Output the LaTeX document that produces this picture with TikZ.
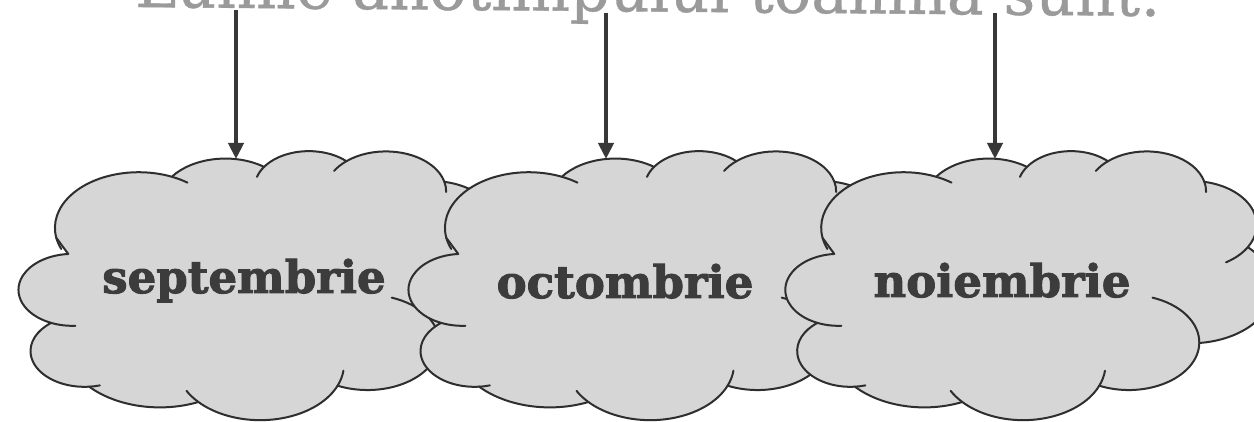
\documentclass[tikz,border=0pt]{standalone}
\usepackage{fontspec}
\setmainfont{DejaVu Serif}
\newfontfamily\titlefont{DejaVu Serif}[FakeBold=0.6]
\newfontfamily\monthfont{DejaVu Serif Bold}[FakeBold=2.2]
\usetikzlibrary{arrows.meta}
\definecolor{cloudfill}{HTML}{D6D6D6}
\definecolor{cloudline}{HTML}{2E2E2E}
\definecolor{arrowcol}{HTML}{383838}
\definecolor{titlecol}{HTML}{9A9A9A}
\definecolor{monthcol}{HTML}{3C3C3C}
\tikzset{
  cloudshape/.pic={
    \path[fill=cloudfill, draw=cloudline, line width=2pt, line join=round]
      (39.00,143.70)
      arc[start angle=-190.487, delta angle=123.781, x radius=67.53, y radius=91.90]
      arc[start angle=-144.102, delta angle=89.945, x radius=53.33, y radius=72.67]
      arc[start angle=-145.808, delta angle=99.723, x radius=43.65, y radius=59.45]
      arc[start angle=-130.986, delta angle=117.242, x radius=48.57, y radius=65.95]
      arc[start angle=-78.709, delta angle=109.027, x radius=53.33, y radius=72.73]
      arc[start angle=-46.267, delta angle=130.269, x radius=67.75, y radius=92.20]
      arc[start angle=0.625, delta angle=114.033, x radius=57.85, y radius=78.67]
      arc[start angle=22.452, delta angle=115.173, x radius=67.52, y radius=92.15]
      arc[start angle=66.243, delta angle=71.255, x radius=77.20, y radius=105.43]
      arc[start angle=-274.942, delta angle=146.736, x radius=43.60, y radius=59.18]
      arc[start angle=-246.829, delta angle=152.519, x radius=43.45, y radius=59.45]
      -- cycle;
    \begin{scope}[draw=cloudline, line width=2pt, line cap=round]
      \draw (51.886,229.495) ++(86.742:43.45 and 59.45) arc[start angle=86.742, end angle=113.171, x radius=43.45, y radius=59.45];
      \draw (61.759,330.654) ++(73.610:43.60 and 59.18) arc[start angle=73.610, end angle=85.058, x radius=43.60, y radius=59.18];
      \draw (203.402,352.75) ++(137.624:67.52 and 92.15) arc[start angle=137.624, end angle=151.705, x radius=67.52, y radius=92.15];
      \draw (203.402,352.75) ++(6.453:67.52 and 92.15) arc[start angle=6.453, end angle=22.451, x radius=67.52, y radius=92.15];
      \draw (289.94,316.445) ++(-70.292:57.85 and 78.67) arc[start angle=-70.292, end angle=0.625, x radius=57.85, y radius=78.67];
      \draw (341.505,122.27) ++(30.318:53.33 and 72.73) arc[start angle=30.318, end angle=58.07, x radius=53.33, y radius=72.73];
      \draw (304.768,66.616) ++(-13.744:48.57 and 65.95) arc[start angle=-13.744, end angle=1.115, x radius=48.57, y radius=65.95];
      \draw (304.768,66.616) ++(-149.181:48.57 and 65.95) arc[start angle=-149.181, end angle=-130.986, x radius=48.57, y radius=65.95];
      \draw (242.643,59.653) ++(-163.494:43.65 and 59.45) arc[start angle=-163.494, end angle=-145.808, x radius=43.65, y radius=59.45];
      \draw (105.402,126.974) ++(-66.707:67.53 and 91.90) arc[start angle=-66.707, end angle=-54.388, x radius=67.53, y radius=91.90];
      \draw (105.402,126.974) ++(157.654:67.53 and 91.90) arc[start angle=157.654, end angle=169.512, x radius=67.53, y radius=91.90];
    \end{scope}
  },
  monthtext/.style={anchor=base, inner sep=0pt, text=monthcol,
    font=\monthfont\fontsize{45}{45}\selectfont},
  arrowline/.style={draw=arrowcol, line width=4.5pt,
    -{Triangle[width=15pt,length=16pt]}}
}
\begin{document}
\begin{tikzpicture}[x=1pt, y=-1pt]
\useasboundingbox (0,0) rectangle (1254,422);
\clip (0,0) rectangle (1254,422);
\fill[white] (0,0) rectangle (1254,422);
% title (cut off at top)
\node[anchor=base west, inner sep=0pt, rotate=-0.5, text=titlecol,
  font=\titlefont\fontsize{62}{62}\selectfont] (title) at (135,7)
  {Lunile anotimpului toamna sunt:};
% clouds
\begin{scope}[shift={(8,151)}, x=1.24pt, y=-0.605pt]
  \pic {cloudshape};
\end{scope}
\begin{scope}[shift={(398,151)}, x=1.24pt, y=-0.605pt]
  \pic {cloudshape};
\end{scope}
\begin{scope}[shift={(775,151)}, x=1.22pt, y=-0.605pt]
  \pic {cloudshape};
\end{scope}
% month labels
\node[monthtext] (sep) at (244,293) {septembrie};
\node[monthtext] (oct) at (625,298) {octombrie};
\node[monthtext] (noi) at (1002,297) {noiembrie};
% arrows
\coordinate (s1) at (236,10);
\coordinate (t1) at (236,159);
\coordinate (s2) at (606,13);
\coordinate (t2) at (606,159);
\coordinate (s3) at (995,13);
\coordinate (t3) at (995,159);
\draw[arrowline] (s1) -- (t1);
\draw[arrowline] (s2) -- (t2);
\draw[arrowline] (s3) -- (t3);
\end{tikzpicture}
\end{document}
